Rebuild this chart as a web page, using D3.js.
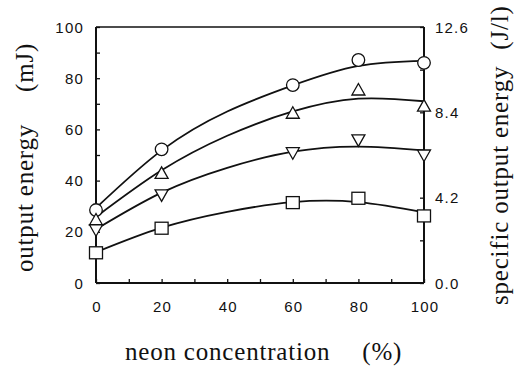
<!DOCTYPE html>
<html><head><meta charset="utf-8">
<script src="https://cdn.jsdelivr.net/npm/d3@7"></script>
<style>
html,body{margin:0;padding:0;background:#fff;}
svg{display:block;}
.tick-label{font-family:"Liberation Sans",Arial,sans-serif;font-size:15px;letter-spacing:1.2px;fill:#111;}
.title{font-family:"Liberation Serif","Times New Roman",serif;font-size:25px;letter-spacing:0.8px;fill:#111;}
</style></head>
<body>
<script>
// measured data (neon concentration %, output energy mJ)
const xPoints = [0, 20, 60, 80, 100];
const circleVals = [28.5, 52.2, 77.3, 87.1, 86.0];
const triUpVals = [24.6, 42.8, 66.3, 75.4, 69.1];
const triDownVals = [20.8, 34.4, 50.9, 55.9, 50.0];
const squareVals = [11.8, 21.4, 31.4, 33.1, 26.2];
// fitted curves
const xCurve = [0, 20, 40, 60, 80, 100];
const circleFit = [29.3, 51.8, 67.0, 77.2, 84.8, 86.8];
const triUpFit = [25.8, 44.0, 57.5, 67.0, 72.0, 71.0];
const triDownFit = [21.0, 35.3, 45.0, 51.3, 53.3, 51.8];
const squareFit = [12.0, 21.6, 27.8, 31.6, 31.6, 27.6];
const xTicks = [0, 20, 40, 60, 80, 100];
const yTicks = [0, 20, 40, 60, 80, 100];
const y2Ticks = [0, 4.2, 8.4, 12.6];
const y2Labels = ["0.0", "4.2", "8.4", "12.6"];

const W = 515, H = 366;
const L = 96, R = 424, T = 27, B = 283;
const svg = d3.select("body").append("svg").attr("width", W).attr("height", H);

const x = d3.scaleLinear().domain([0, 100]).range([L, R]);
const y = d3.scaleLinear().domain([0, 100]).range([B, T]);
const y2 = d3.scaleLinear().domain([0, 12.6]).range([B, T]);

// frame
const g = svg.append("g");
g.append("line").attr("x1", L).attr("x2", R).attr("y1", T).attr("y2", T).attr("stroke", "#111").attr("stroke-width", 1.4);
g.append("line").attr("x1", L).attr("x2", R).attr("y1", B).attr("y2", B).attr("stroke", "#111").attr("stroke-width", 2);
g.append("line").attr("x1", L).attr("x2", L).attr("y1", T).attr("y2", B).attr("stroke", "#111").attr("stroke-width", 2);
g.append("line").attr("x1", R).attr("x2", R).attr("y1", T).attr("y2", B).attr("stroke", "#111").attr("stroke-width", 2);

// axes (inward ticks)
const leftAx = svg.append("g").attr("transform", `translate(${L},0)`)
  .call(d3.axisRight(y).tickValues(d3.range(0, 101, 10)).tickSize(4).tickFormat(""));
const bottomAx = svg.append("g").attr("transform", `translate(0,${B})`)
  .call(d3.axisTop(x).tickValues(d3.range(0, 101, 10)).tickSize(4).tickFormat(""));
const rightAx = svg.append("g").attr("transform", `translate(${R},0)`)
  .call(d3.axisLeft(y2).tickValues(d3.range(0, 12.61, 2.1)).tickSize(4).tickFormat(""));
[leftAx, bottomAx, rightAx].forEach(a => {
  a.select(".domain").remove();
  a.selectAll(".tick line").attr("stroke", "#111").attr("stroke-width", 1.3);
});

// tick labels
svg.append("g").selectAll("text").data(yTicks).join("text")
  .attr("class", "tick-label").attr("x", L - 12).attr("y", d => y(d) + 5.5)
  .attr("text-anchor", "end").text(d => d);
svg.append("g").selectAll("text").data(xTicks).join("text")
  .attr("class", "tick-label").attr("x", d => x(d) + 1).attr("y", 312)
  .attr("text-anchor", "middle").text(d => d);
svg.append("g").selectAll("text").data(y2Ticks).join("text")
  .attr("class", "tick-label").attr("x", R + 11).attr("y", d => y2(d) + 5.5)
  .attr("text-anchor", "start").text((d, i) => y2Labels[i]);

// titles
function title(parts, gap, tx, ty, rot) {
  const t = svg.append("text").attr("class", "title")
    .attr("transform", `translate(${tx},${ty})` + (rot ? " rotate(-90)" : ""));
  t.append("tspan").text(parts[0]);
  t.append("tspan").attr("dx", gap).text(parts[1]);
}
title(["output energy", "(mJ)"], 32, 33, 272, true);
title(["specific output energy", "(J/l)"], 16, 508, 305, true);
title(["neon concentration", "(%)"], 32, 125, 360, false);

// curves
const line = d3.line().x((d, i) => x(xCurve[i])).y(d => y(d)).curve(d3.curveNatural);
[circleFit, triUpFit, triDownFit, squareFit].forEach(f => {
  svg.append("path").attr("d", line(f)).attr("fill", "none").attr("stroke", "#111").attr("stroke-width", 1.8);
});

// markers
const mk = svg.append("g").attr("fill", "#fff").attr("stroke", "#111").attr("stroke-width", 1.3);
mk.selectAll("circle").data(circleVals).join("circle")
  .attr("cx", (d, i) => x(xPoints[i])).attr("cy", d => y(d)).attr("r", 6.3);
mk.selectAll("path.up").data(triUpVals).join("path").attr("class", "up")
  .attr("d", (d, i) => { const cx = x(xPoints[i]), cy = y(d); return `M${cx},${cy-6.5}L${cx+6.5},${cy+5}L${cx-6.5},${cy+5}Z`; });
mk.selectAll("path.down").data(triDownVals).join("path").attr("class", "down")
  .attr("d", (d, i) => { const cx = x(xPoints[i]), cy = y(d); return `M${cx},${cy+6.5}L${cx+6.5},${cy-5}L${cx-6.5},${cy-5}Z`; });
mk.selectAll("rect").data(squareVals).join("rect")
  .attr("x", (d, i) => x(xPoints[i]) - 6.5).attr("y", d => y(d) - 6).attr("width", 13).attr("height", 12);
</script>
</body></html>
